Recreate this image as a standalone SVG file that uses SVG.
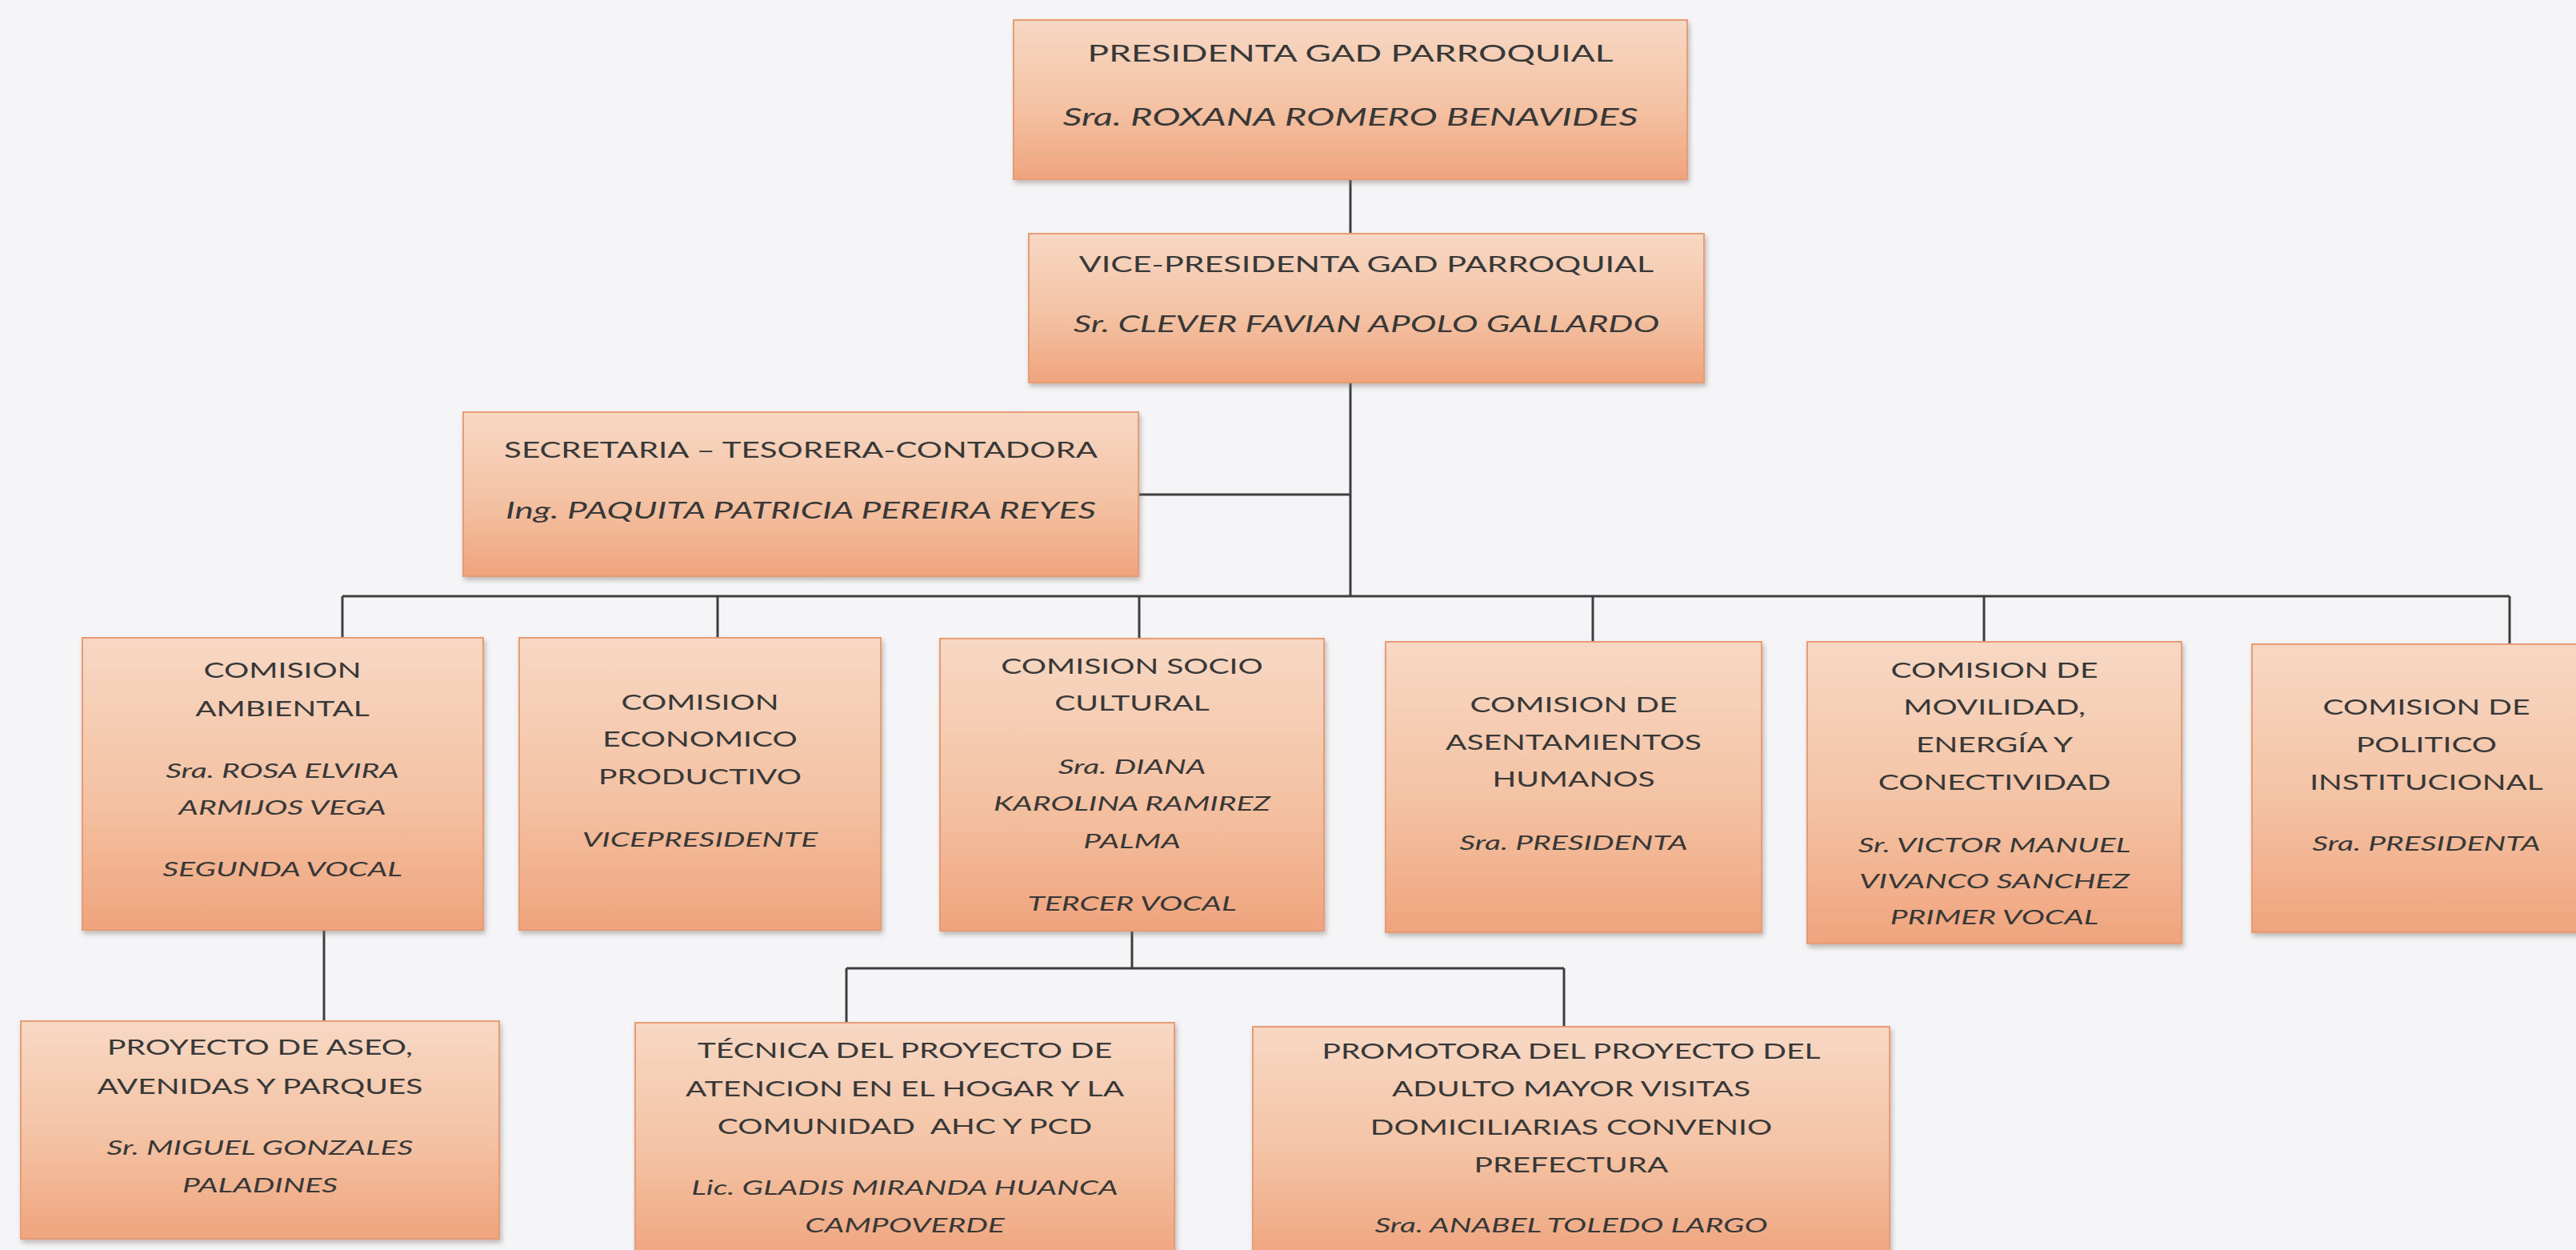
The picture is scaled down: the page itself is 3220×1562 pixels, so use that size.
<svg xmlns="http://www.w3.org/2000/svg" width="3220" height="1562" viewBox="0 0 3220 1562">
<defs>
<linearGradient id="boxg" x1="0" y1="0" x2="0" y2="1">
<stop offset="0" stop-color="#f7d8c4"/>
<stop offset="0.55" stop-color="#f4c2a3"/>
<stop offset="1" stop-color="#efa47d"/>
</linearGradient>
<filter id="sh" x="-5%" y="-5%" width="110%" height="115%">
<feDropShadow dx="2" dy="4" stdDeviation="3" flood-color="#7a6a60" flood-opacity="0.45"/>
</filter>
<style>
.box{fill:url(#boxg);stroke:#e79c74;stroke-width:2;filter:url(#sh)}
.ln{stroke:#3e3e3e;stroke-width:3;fill:none}
text{font-family:Lato,"Open Sans","Liberation Sans",sans-serif;fill:#383838;text-anchor:middle}
.t2{font-size:26px}
.it{font-style:italic}
</style>
</defs>
<rect x="0" y="0" width="3220" height="1562" fill="#f5f5f7"/>

<g id="connectors">
<path class="ln" d="M1688 224V292"/>
<path class="ln" d="M1688 478V745"/>
<path class="ln" d="M1423 618H1688"/>
<path class="ln" d="M428 745H3137"/>
<path class="ln" d="M428 745V797M897 745V797M1424 745V798M1991 745V802M2480 745V802M3137 745V805"/>
<path class="ln" d="M405 1162V1276"/>
<path class="ln" d="M1415 1163V1210M1058 1210H1955M1058 1210V1278M1955 1210V1283"/>
</g>

<g id="presidenta">
<rect class="box" x="1267" y="25" width="842" height="199"/>
<g transform="translate(1688 0) scale(1.5 1)">
<text x="0" y="77" font-size="29.5">PRESIDENTA GAD PARROQUIAL</text>
<text class="it" x="0" y="157" font-size="31.5">Sra. ROXANA ROMERO BENAVIDES</text>
</g>
</g>

<g id="vicepresidenta">
<rect class="box" x="1286" y="292" width="844" height="186"/>
<g transform="translate(1708 0) scale(1.5 1)">
<text x="0" y="340" font-size="27.5">VICE-PRESIDENTA GAD PARROQUIAL</text>
<text class="it" x="0" y="415" font-size="29.3">Sr. CLEVER FAVIAN APOLO GALLARDO</text>
</g>
</g>

<g id="secretaria">
<rect class="box" x="579" y="515" width="844" height="205"/>
<g transform="translate(1001 0) scale(1.5 1)">
<text x="0" y="572" font-size="26.8">SECRETARIA – TESORERA-CONTADORA</text>
<text class="it" x="0" y="648" font-size="29.4">Ing. PAQUITA PATRICIA PEREIRA REYES</text>
</g>
</g>

<g id="comision-ambiental">
<rect class="box" x="103" y="797" width="501" height="365"/>
<g transform="translate(353 0) scale(1.5 1)">
<text class="t2" x="0" y="847">COMISION</text>
<text class="t2" x="0" y="895">AMBIENTAL</text>
<text class="t2 it" x="0" y="972">Sra. ROSA ELVIRA</text>
<text class="t2 it" x="0" y="1018">ARMIJOS VEGA</text>
<text class="t2 it" x="0" y="1095">SEGUNDA VOCAL</text>
</g>
</g>

<g id="comision-economico">
<rect class="box" x="649" y="797" width="452" height="365"/>
<g transform="translate(875 0) scale(1.5 1)">
<text class="t2" x="0" y="887">COMISION</text>
<text class="t2" x="0" y="933">ECONOMICO</text>
<text class="t2" x="0" y="980">PRODUCTIVO</text>
<text class="t2 it" x="0" y="1058">VICEPRESIDENTE</text>
</g>
</g>

<g id="comision-socio-cultural">
<rect class="box" x="1175" y="798" width="480" height="365"/>
<g transform="translate(1415 0) scale(1.5 1)">
<text class="t2" x="0" y="842">COMISION SOCIO</text>
<text class="t2" x="0" y="888">CULTURAL</text>
<text class="t2 it" x="0" y="967">Sra. DIANA</text>
<text class="t2 it" x="0" y="1013">KAROLINA RAMIREZ</text>
<text class="t2 it" x="0" y="1060">PALMA</text>
<text class="t2 it" x="0" y="1138">TERCER VOCAL</text>
</g>
</g>

<g id="comision-asentamientos">
<rect class="box" x="1732" y="802" width="470" height="363"/>
<g transform="translate(1967 0) scale(1.5 1)">
<text class="t2" x="0" y="890">COMISION DE</text>
<text class="t2" x="0" y="937">ASENTAMIENTOS</text>
<text class="t2" x="0" y="983">HUMANOS</text>
<text class="t2 it" x="0" y="1062">Sra. PRESIDENTA</text>
</g>
</g>

<g id="comision-movilidad">
<rect class="box" x="2259" y="802" width="468" height="377"/>
<g transform="translate(2493 0) scale(1.5 1)">
<text class="t2" x="0" y="847">COMISION DE</text>
<text class="t2" x="0" y="893">MOVILIDAD,</text>
<text class="t2" x="0" y="940">ENERGÍA Y</text>
<text class="t2" x="0" y="987">CONECTIVIDAD</text>
<text class="t2 it" x="0" y="1065">Sr. VICTOR MANUEL</text>
<text class="t2 it" x="0" y="1110">VIVANCO SANCHEZ</text>
<text class="t2 it" x="0" y="1155">PRIMER VOCAL</text>
</g>
</g>

<g id="comision-politico">
<rect class="box" x="2815" y="805" width="436" height="360"/>
<g transform="translate(3033 0) scale(1.5 1)">
<text class="t2" x="0" y="893">COMISION DE</text>
<text class="t2" x="0" y="940">POLITICO</text>
<text class="t2" x="0" y="987">INSTITUCIONAL</text>
<text class="t2 it" x="0" y="1063">Sra. PRESIDENTA</text>
</g>
</g>

<g id="proyecto-aseo">
<rect class="box" x="26" y="1276" width="598" height="272"/>
<g transform="translate(325 0) scale(1.5 1)">
<text class="t2" x="0" y="1318">PROYECTO DE ASEO,</text>
<text class="t2" x="0" y="1367">AVENIDAS Y PARQUES</text>
<text class="t2 it" x="0" y="1443">Sr. MIGUEL GONZALES</text>
<text class="t2 it" x="0" y="1490">PALADINES</text>
</g>
</g>

<g id="tecnica-proyecto">
<rect class="box" x="794" y="1278" width="674" height="300"/>
<g transform="translate(1131 0) scale(1.5 1)">
<text class="t2" x="0" y="1322">TÉCNICA DEL PROYECTO DE</text>
<text class="t2" x="0" y="1370">ATENCION EN EL HOGAR Y LA</text>
<text class="t2" x="0" y="1417" xml:space="preserve">COMUNIDAD  AHC Y PCD</text>
<text class="t2 it" x="0" y="1493">Lic. GLADIS MIRANDA HUANCA</text>
<text class="t2 it" x="0" y="1540">CAMPOVERDE</text>
</g>
</g>

<g id="promotora-proyecto">
<rect class="box" x="1566" y="1283" width="796" height="295"/>
<g transform="translate(1964 0) scale(1.5 1)">
<text class="t2" x="0" y="1323">PROMOTORA DEL PROYECTO DEL</text>
<text class="t2" x="0" y="1370">ADULTO MAYOR VISITAS</text>
<text class="t2" x="0" y="1418">DOMICILIARIAS CONVENIO</text>
<text class="t2" x="0" y="1465">PREFECTURA</text>
<text class="t2 it" x="0" y="1540">Sra. ANABEL TOLEDO LARGO</text>
</g>
</g>
</svg>
